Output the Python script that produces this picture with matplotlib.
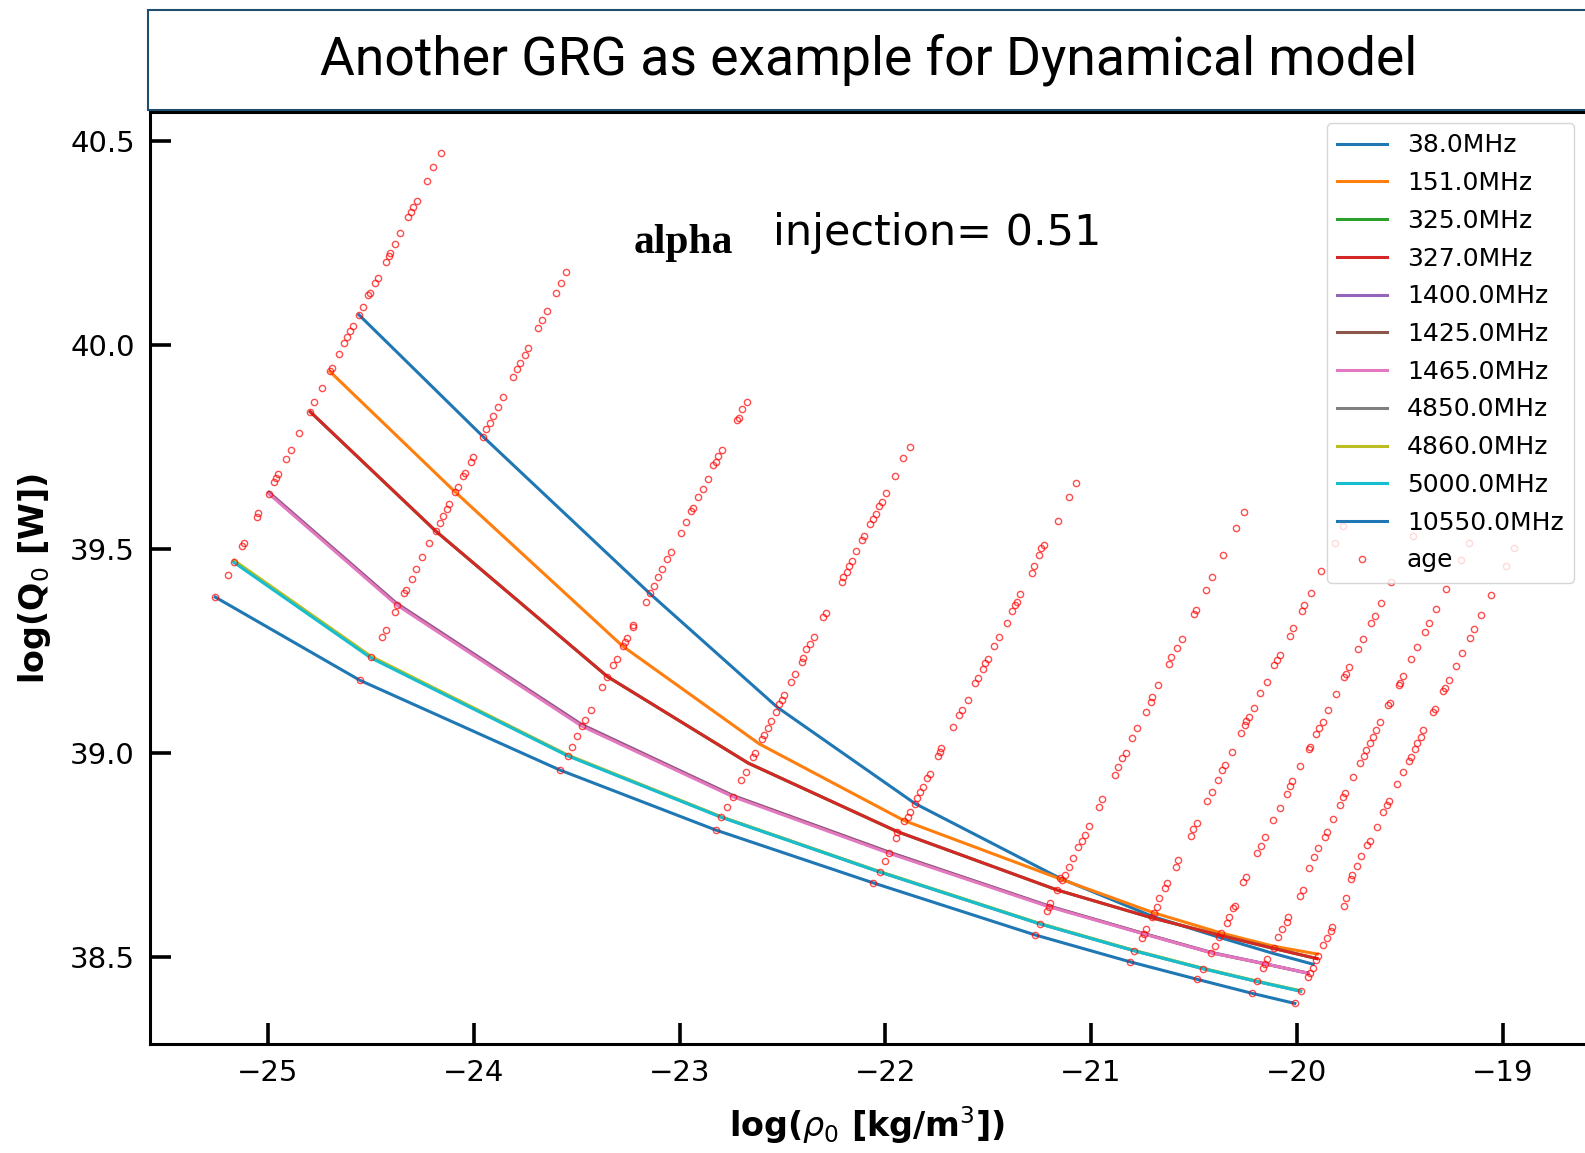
import matplotlib
matplotlib.use("Agg")
import matplotlib.pyplot as plt
from matplotlib.patches import Rectangle

# ---------------- data ----------------
freq_labels = ["38.0MHz", "151.0MHz", "325.0MHz", "327.0MHz", "1400.0MHz", "1425.0MHz",
               "1465.0MHz", "4850.0MHz", "4860.0MHz", "5000.0MHz", "10550.0MHz"]

f38_x = [-24.558, -23.954, -23.145, -22.525, -21.856, -21.152, -20.700, -20.377, -20.118, -19.921]
f38_y = [40.075, 39.776, 39.392, 39.113, 38.877, 38.694, 38.600, 38.549, 38.510, 38.483]
f151_x = [-24.699, -24.091, -23.277, -22.612, -21.908, -21.139, -20.695, -20.371, -20.112, -19.900]
f151_y = [39.936, 39.641, 39.263, 39.023, 38.835, 38.690, 38.609, 38.560, 38.527, 38.508]
f325_x = [-24.794, -24.185, -23.350, -22.666, -21.941, -21.165, -20.706, -20.374, -20.115, -19.904]
f325_y = [39.837, 39.545, 39.188, 38.976, 38.808, 38.665, 38.597, 38.554, 38.522, 38.497]
f327_x = [-24.794, -24.185, -23.350, -22.666, -21.941, -21.165, -20.706, -20.374, -20.115, -19.904]
f327_y = [39.837, 39.545, 39.188, 38.976, 38.808, 38.665, 38.597, 38.554, 38.522, 38.497]
f1400_x = [-24.995, -24.375, -23.476, -22.742, -21.982, -21.205, -20.743, -20.415, -20.155, -19.945]
f1400_y = [39.640, 39.368, 39.071, 38.897, 38.758, 38.626, 38.558, 38.512, 38.484, 38.461]
f1425_x = [-24.995, -24.375, -23.476, -22.742, -21.982, -21.205, -20.743, -20.415, -20.155, -19.945]
f1425_y = [39.638, 39.366, 39.069, 38.896, 38.757, 38.625, 38.558, 38.511, 38.484, 38.461]
f1465_x = [-24.995, -24.375, -23.476, -22.742, -21.982, -21.205, -20.743, -20.415, -20.155, -19.945]
f1465_y = [39.636, 39.364, 39.067, 38.894, 38.755, 38.624, 38.557, 38.511, 38.484, 38.461]
f4850_x = [-25.165, -24.500, -23.544, -22.796, -22.026, -21.249, -20.790, -20.455, -20.196, -19.982]
f4850_y = [39.470, 39.236, 38.995, 38.844, 38.709, 38.582, 38.516, 38.472, 38.441, 38.417]
f4860_x = [-25.165, -24.500, -23.544, -22.796, -22.026, -21.249, -20.790, -20.455, -20.196, -19.982]
f4860_y = [39.473, 39.238, 38.996, 38.844, 38.710, 38.583, 38.517, 38.473, 38.442, 38.418]
f5000_x = [-25.165, -24.500, -23.544, -22.796, -22.026, -21.249, -20.790, -20.455, -20.196, -19.982]
f5000_y = [39.468, 39.234, 38.994, 38.843, 38.709, 38.582, 38.516, 38.472, 38.441, 38.417]
f10550_x = [-25.256, -24.553, -23.581, -22.824, -22.062, -21.273, -20.811, -20.484, -20.220, -20.010]
f10550_y = [39.383, 39.179, 38.959, 38.812, 38.683, 38.555, 38.489, 38.446, 38.412, 38.387]

# age dots, one diagonal per age
age1_x = [-24.161, -24.197, -24.229, -24.278, -24.297, -24.307, -24.318, -24.359, -24.383, -24.407,
          -24.412, -24.428, -24.467, -24.480, -24.504, -24.513, -24.540, -24.558, -24.585, -24.602,
          -24.615, -24.629, -24.653, -24.691, -24.699, -24.739, -24.775, -24.794, -24.848, -24.890,
          -24.913, -24.950, -24.961, -24.971, -24.995, -25.047, -25.055, -25.117, -25.125, -25.165,
          -25.196, -25.256]
age1_y = [40.471, 40.436, 40.402, 40.355, 40.339, 40.328, 40.314, 40.275, 40.249, 40.227,
          40.219, 40.205, 40.165, 40.152, 40.129, 40.124, 40.095, 40.075, 40.048, 40.034,
          40.021, 40.007, 39.978, 39.944, 39.936, 39.895, 39.860, 39.837, 39.786, 39.744,
          39.721, 39.685, 39.674, 39.666, 39.636, 39.590, 39.580, 39.516, 39.508, 39.468,
          39.437, 39.383]
age2_x = [-23.551, -23.575, -23.600, -23.646, -23.670, -23.690, -23.735, -23.751, -23.776, -23.792,
          -23.808, -23.857, -23.881, -23.905, -23.921, -23.938, -23.954, -24.002, -24.015, -24.043,
          -24.051, -24.075, -24.091, -24.119, -24.132, -24.148, -24.164, -24.185, -24.216, -24.253,
          -24.281, -24.302, -24.330, -24.339, -24.372, -24.383, -24.427, -24.448, -24.500, -24.553]
age2_y = [40.180, 40.154, 40.128, 40.083, 40.062, 40.042, 39.993, 39.977, 39.956, 39.941,
          39.923, 39.874, 39.850, 39.827, 39.809, 39.794, 39.776, 39.727, 39.715, 39.686,
          39.680, 39.654, 39.641, 39.611, 39.598, 39.582, 39.565, 39.545, 39.515, 39.480,
          39.451, 39.427, 39.400, 39.392, 39.364, 39.347, 39.302, 39.284, 39.235, 39.179]
age3_x = [-22.671, -22.695, -22.712, -22.720, -22.794, -22.811, -22.824, -22.836, -22.861, -22.886,
          -22.911, -22.935, -22.943, -22.968, -22.993, -23.042, -23.060, -23.085, -23.104, -23.124,
          -23.145, -23.162, -23.225, -23.228, -23.254, -23.265, -23.277, -23.306, -23.322, -23.350,
          -23.376, -23.432, -23.457, -23.476, -23.497, -23.524, -23.544, -23.581]
age3_y = [39.861, 39.844, 39.823, 39.816, 39.743, 39.729, 39.715, 39.706, 39.673, 39.649,
          39.628, 39.602, 39.593, 39.568, 39.541, 39.494, 39.476, 39.452, 39.433, 39.410,
          39.392, 39.372, 39.315, 39.309, 39.282, 39.274, 39.263, 39.230, 39.217, 39.188,
          39.162, 39.106, 39.082, 39.067, 39.043, 39.015, 38.994, 38.959]
age4_x = [-21.880, -21.913, -21.953, -21.997, -22.018, -22.029, -22.046, -22.062, -22.075, -22.104,
          -22.112, -22.143, -22.164, -22.177, -22.188, -22.204, -22.212, -22.290, -22.302, -22.347,
          -22.366, -22.383, -22.402, -22.407, -22.439, -22.460, -22.493, -22.504, -22.515, -22.532,
          -22.553, -22.572, -22.588, -22.598, -22.634, -22.645, -22.677, -22.702, -22.742, -22.768,
          -22.796, -22.824]
age4_y = [39.750, 39.723, 39.680, 39.639, 39.617, 39.606, 39.587, 39.574, 39.561, 39.533,
          39.523, 39.496, 39.472, 39.459, 39.445, 39.433, 39.419, 39.343, 39.335, 39.284,
          39.268, 39.255, 39.233, 39.225, 39.194, 39.176, 39.143, 39.131, 39.121, 39.102,
          39.080, 39.061, 39.045, 39.034, 39.002, 38.990, 38.955, 38.935, 38.894, 38.868,
          38.843, 38.812]
age5_x = [-21.071, -21.106, -21.163, -21.228, -21.241, -21.252, -21.276, -21.289, -21.346, -21.362,
          -21.370, -21.386, -21.411, -21.448, -21.471, -21.503, -21.516, -21.527, -21.548, -21.565,
          -21.600, -21.629, -21.641, -21.670, -21.727, -21.735, -21.743, -21.783, -21.796, -21.816,
          -21.832, -21.845, -21.856, -21.880, -21.889, -21.908, -21.941, -21.948, -21.982, -22.001,
          -22.026, -22.062]
age5_y = [39.662, 39.628, 39.570, 39.511, 39.503, 39.486, 39.460, 39.441, 39.390, 39.372,
          39.364, 39.349, 39.320, 39.286, 39.263, 39.230, 39.221, 39.206, 39.184, 39.172,
          39.131, 39.105, 39.094, 39.064, 39.012, 39.004, 38.993, 38.949, 38.939, 38.918,
          38.904, 38.891, 38.877, 38.855, 38.845, 38.835, 38.808, 38.793, 38.755, 38.735,
          38.709, 38.683]
age6_x = [-20.257, -20.294, -20.359, -20.412, -20.443, -20.492, -20.500, -20.560, -20.581, -20.610,
          -20.621, -20.673, -20.706, -20.710, -20.735, -20.775, -20.799, -20.832, -20.848, -20.867,
          -20.885, -20.948, -20.961, -21.010, -21.031, -21.042, -21.062, -21.088, -21.107, -21.128,
          -21.140, -21.152, -21.165, -21.200, -21.205, -21.216, -21.249, -21.273]
age6_y = [39.591, 39.552, 39.486, 39.432, 39.400, 39.351, 39.341, 39.280, 39.259, 39.235,
          39.219, 39.168, 39.139, 39.127, 39.101, 39.063, 39.037, 39.002, 38.988, 38.967,
          38.947, 38.887, 38.869, 38.823, 38.800, 38.786, 38.770, 38.743, 38.722, 38.702,
          38.690, 38.694, 38.665, 38.632, 38.624, 38.614, 38.582, 38.555]
age7_x = [-19.776, -19.815, -19.884, -19.933, -19.965, -19.977, -20.017, -20.035, -20.084, -20.095,
          -20.111, -20.147, -20.179, -20.208, -20.233, -20.246, -20.252, -20.270, -20.314, -20.351,
          -20.365, -20.383, -20.411, -20.438, -20.487, -20.503, -20.516, -20.576, -20.589, -20.629,
          -20.642, -20.670, -20.679, -20.695, -20.706, -20.734, -20.743, -20.755, -20.790, -20.811]
age7_y = [39.556, 39.516, 39.448, 39.394, 39.364, 39.349, 39.308, 39.288, 39.241, 39.229,
          39.217, 39.176, 39.147, 39.112, 39.090, 39.080, 39.070, 39.051, 39.004, 38.971,
          38.958, 38.935, 38.904, 38.882, 38.830, 38.814, 38.797, 38.739, 38.722, 38.683,
          38.671, 38.645, 38.624, 38.609, 38.598, 38.569, 38.557, 38.547, 38.516, 38.489]
age8_x = [-19.434, -19.541, -19.590, -19.622, -19.638, -19.677, -19.703, -19.747, -19.763, -19.771,
          -19.811, -19.849, -19.873, -19.892, -19.909, -19.938, -19.941, -19.986, -20.022, -20.033,
          -20.050, -20.082, -20.114, -20.155, -20.173, -20.192, -20.249, -20.260, -20.301, -20.309,
          -20.329, -20.342, -20.371, -20.377, -20.398, -20.415, -20.455, -20.484]
age8_y = [39.533, 39.421, 39.369, 39.337, 39.320, 39.280, 39.255, 39.211, 39.195, 39.188,
          39.145, 39.106, 39.078, 39.061, 39.047, 39.016, 39.010, 38.970, 38.931, 38.920,
          38.900, 38.865, 38.837, 38.794, 38.774, 38.755, 38.696, 38.685, 38.626, 38.620,
          38.598, 38.583, 38.560, 38.551, 38.528, 38.511, 38.472, 38.446]
age9_x = [-19.164, -19.201, -19.277, -19.326, -19.358, -19.377, -19.415, -19.444, -19.483, -19.499,
          -19.504, -19.547, -19.556, -19.596, -19.614, -19.628, -19.645, -19.666, -19.674, -19.693,
          -19.726, -19.768, -19.774, -19.790, -19.824, -19.855, -19.865, -19.896, -19.917, -19.941,
          -19.972, -19.985, -20.042, -20.050, -20.070, -20.091, -20.112, -20.144, -20.155, -20.164,
          -20.196, -20.220]
age9_y = [39.515, 39.474, 39.402, 39.353, 39.319, 39.298, 39.260, 39.231, 39.190, 39.173,
          39.168, 39.124, 39.118, 39.078, 39.057, 39.039, 39.025, 39.007, 38.994, 38.976,
          38.943, 38.902, 38.892, 38.873, 38.839, 38.806, 38.796, 38.767, 38.747, 38.720,
          38.665, 38.650, 38.598, 38.587, 38.569, 38.551, 38.522, 38.497, 38.484, 38.473,
          38.441, 38.412]
age10_x = [-18.945, -18.985, -19.055, -19.104, -19.139, -19.159, -19.196, -19.228, -19.261, -19.282,
           -19.288, -19.330, -19.337, -19.385, -19.398, -19.415, -19.428, -19.447, -19.455, -19.483,
           -19.512, -19.552, -19.564, -19.580, -19.612, -19.645, -19.658, -19.687, -19.710, -19.731,
           -19.739, -19.759, -19.772, -19.827, -19.836, -19.856, -19.872, -19.896, -19.908, -19.924,
           -19.937, -19.945, -19.982, -20.010]
age10_y = [39.503, 39.459, 39.388, 39.339, 39.305, 39.282, 39.247, 39.215, 39.180, 39.159,
           39.153, 39.109, 39.101, 39.056, 39.039, 39.025, 39.011, 38.990, 38.980, 38.953,
           38.924, 38.882, 38.873, 38.855, 38.819, 38.786, 38.775, 38.748, 38.724, 38.702,
           38.692, 38.645, 38.626, 38.575, 38.565, 38.547, 38.530, 38.503, 38.493, 38.473,
           38.461, 38.451, 38.417, 38.387]

x_ticks = [-25, -24, -23, -22, -21, -20, -19]
y_ticks = [38.5, 39.0, 39.5, 40.0, 40.5]

title_text = "Another GRG as example for Dynamical model"

# ---------------- figure ----------------
W, H = 1585, 1153
fig = plt.figure(figsize=(W / 100, H / 100), dpi=100)
ax = fig.add_axes([150 / W, 1 - 1044 / H, 1 - 150 / W, (1044 - 112) / H])

line_x = [f38_x, f151_x, f325_x, f327_x, f1400_x, f1425_x, f1465_x, f4850_x, f4860_x, f5000_x, f10550_x]
line_y = [f38_y, f151_y, f325_y, f327_y, f1400_y, f1425_y, f1465_y, f4850_y, f4860_y, f5000_y, f10550_y]
colors = plt.rcParams['axes.prop_cycle'].by_key()['color']
for i, (lx, ly, lab) in enumerate(zip(line_x, line_y, freq_labels)):
    ax.plot(lx, ly, color=colors[i % 10], lw=2.2, label=lab)

age_x = [age1_x, age2_x, age3_x, age4_x, age5_x, age6_x, age7_x, age8_x, age9_x, age10_x]
age_y = [age1_y, age2_y, age3_y, age4_y, age5_y, age6_y, age7_y, age8_y, age9_y, age10_y]
for i, (axx, ayy) in enumerate(zip(age_x, age_y)):
    ax.plot(axx, ayy, ls='none', marker='o', ms=4.5, mfc='none', mec='red', mew=1.0,
            alpha=0.7, label='age' if i == 0 else None)

ax.set_xlim(-25.573, -18.600)
ax.set_ylim(38.2875, 40.572)
ax.set_xticks(x_ticks)
ax.set_yticks(y_ticks)
ax.set_yticklabels([f"{v:.1f}" for v in y_ticks])
ax.tick_params(direction='in', length=15, width=2.6, labelsize=21, pad=11)
for s in ['left', 'bottom', 'top']:
    ax.spines[s].set_linewidth(2.2)
ax.spines['right'].set_visible(False)

ax.set_xlabel(r'log($\rho_0$ [kg/m$^3$])', fontsize=24, fontweight='bold', labelpad=12)
ax.set_ylabel(r'log(Q$_0$ [W])', fontsize=24, fontweight='bold', labelpad=12)

ax.text(-23.222, 40.227, 'alpha', fontsize=30, fontweight='bold',
        family='Liberation Serif', ha='left', va='baseline')
ax.text(-22.545, 40.245, 'injection= 0.51', fontsize=31, ha='left', va='baseline')

leg = ax.legend(loc='upper right', fontsize=18, numpoints=1, borderaxespad=0.45,
                labelspacing=0.55)

# title box
box = Rectangle((148 / W, 1 - 109.5 / H), 1.0, (109.5 - 10) / H, transform=fig.transFigure,
                facecolor='white', edgecolor='#1f4e6e', lw=1.5, zorder=5)
fig.add_artist(box)
fig.text(869 / W, 1 - 60 / H, title_text, fontsize=38.5, family='Roboto',
         ha='center', va='center', zorder=6)

fig.savefig('out.png', dpi=100)
